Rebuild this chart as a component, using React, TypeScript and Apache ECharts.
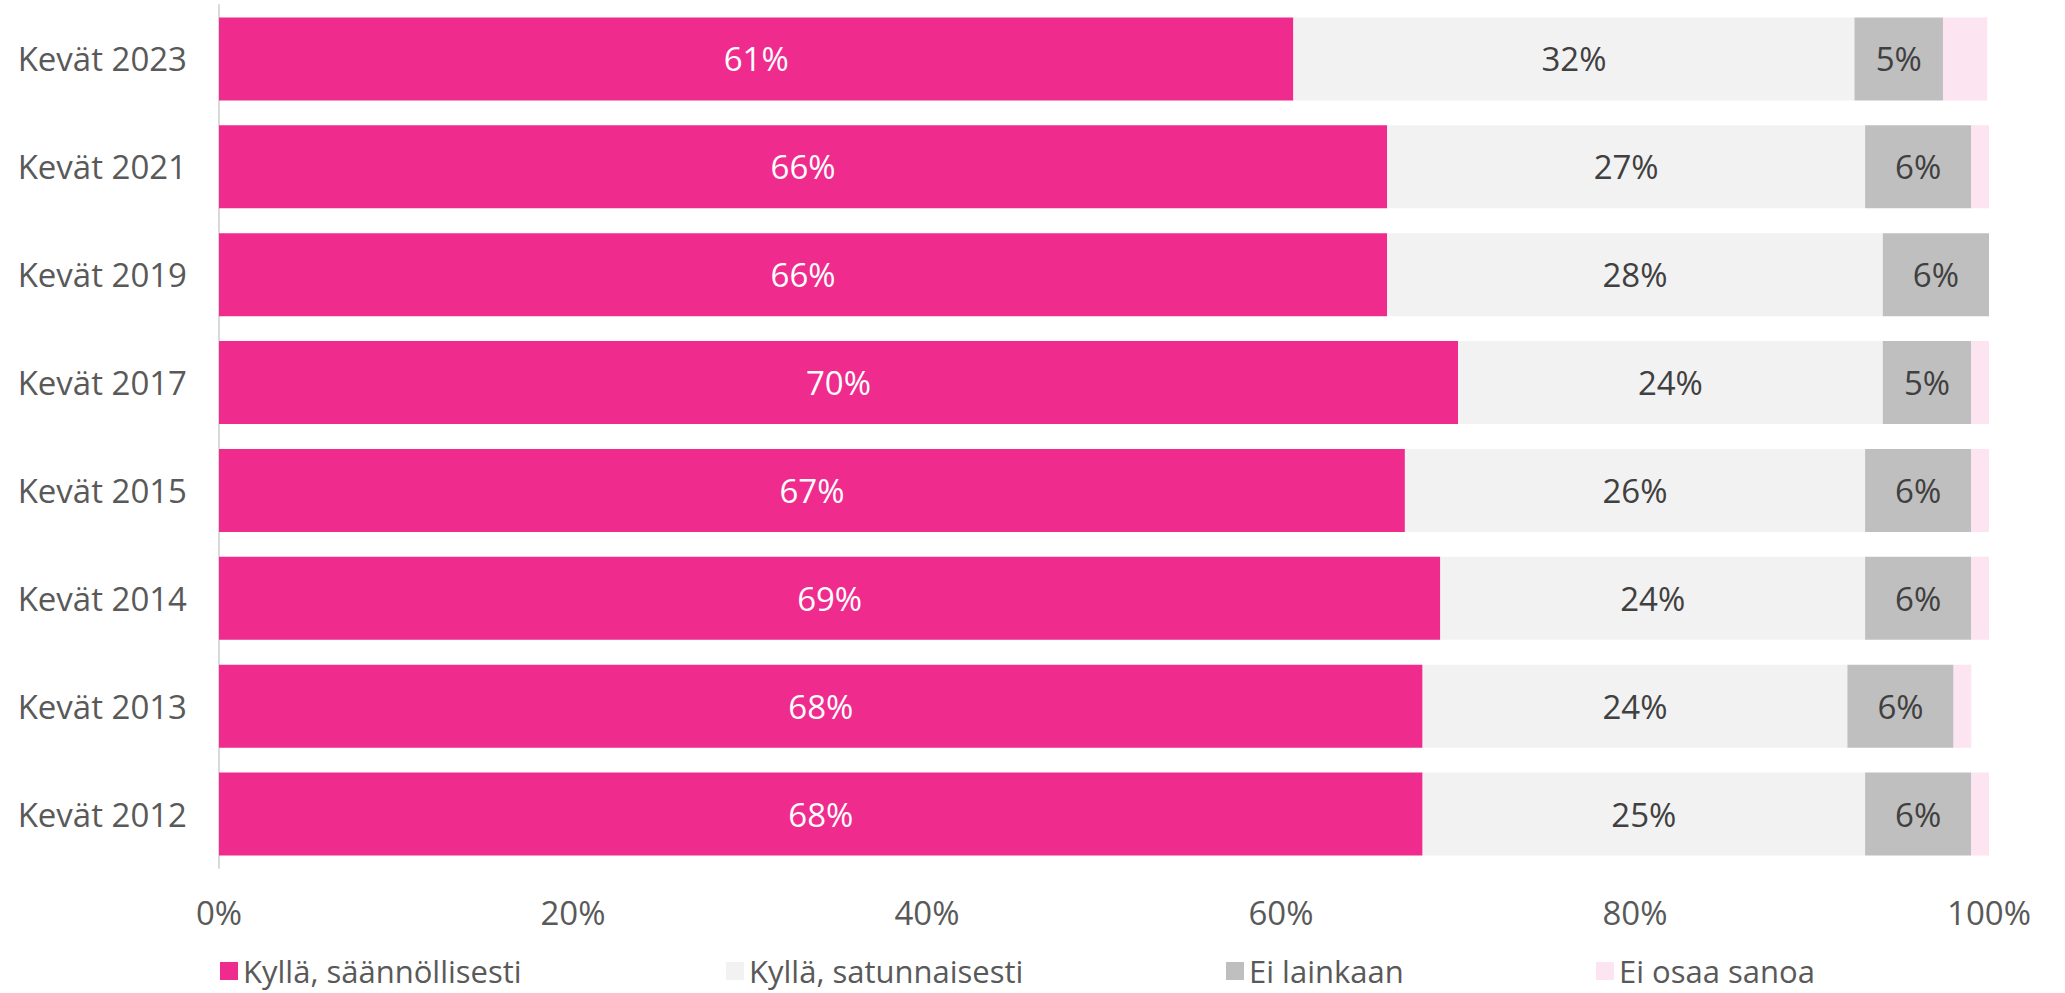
import React, { useEffect, useRef } from "react";
import * as echarts from "echarts";

const categories = [
  "Kevät 2023",
  "Kevät 2021",
  "Kevät 2019",
  "Kevät 2017",
  "Kevät 2015",
  "Kevät 2014",
  "Kevät 2013",
  "Kevät 2012",
];
const seriesNames = [
  "Kyllä, säännöllisesti",
  "Kyllä, satunnaisesti",
  "Ei lainkaan",
  "Ei osaa sanoa",
];
const regular = [60.7, 66, 66, 70, 67, 69, 68, 68];
const occasional = [31.7, 27, 28, 24, 26, 24, 24, 25];
const notAtAll = [5, 6, 6, 5, 6, 6, 6, 6];
const dontKnow = [2.5, 1, 0, 1, 1, 1, 1, 1];
const xTicks = [0, 20, 40, 60, 80, 100];

const colors = ["#EF2B8D", "#F2F2F2", "#BFBFBF", "#FCE4F0"];
const labelColors = ["#FFFFFF", "#404040", "#404040", "#404040"];
const showLabel = [true, true, true, false];
const legendLeft = [220, 726, 1226, 1596];
const FONT = "Open Sans";

export default function App() {
  const ref = useRef<HTMLDivElement>(null);
  useEffect(() => {
    if (!ref.current) return;
    const chart = echarts.init(ref.current, null, { renderer: "svg" });
    const values = [regular, occasional, notAtAll, dontKnow];
    chart.setOption({
      animation: false,
      textStyle: { fontFamily: FONT },
      grid: { left: 219, right: 76, top: 5, bottom: 125, containLabel: false },
      legend: seriesNames.map((n, i) => ({
        data: [n],
        left: legendLeft[i],
        top: 954,
        padding: 0,
        itemWidth: 18,
        itemHeight: 18,
        itemGap: 10,
        icon: "rect",
        textStyle: {
          fontFamily: FONT,
          fontSize: 31,
          lineHeight: 34,
          color: "#595959",
          padding: [0, 0, 0, 0],
        },
        selectedMode: false,
      })),
      xAxis: {
        type: "value",
        min: 0,
        max: 100,
        interval: 20,
        axisLine: { show: false },
        axisTick: { show: false },
        splitLine: { show: false },
        axisLabel: {
          margin: 28,
          fontSize: 33,
          color: "#595959",
          fontFamily: FONT,
          formatter: (v: number) => (xTicks.includes(v) ? `${v}%` : ""),
        },
      },
      yAxis: {
        type: "category",
        inverse: true,
        data: categories,
        axisLine: { show: true, lineStyle: { color: "#D9D9D9", width: 2 } },
        axisTick: { show: false },
        axisLabel: { margin: 32, fontSize: 33, color: "#595959", fontFamily: FONT },
      },
      series: seriesNames.map((n, i) => ({
        name: n,
        type: "bar",
        stack: "total",
        barWidth: 83,
        data: values[i],
        itemStyle: { color: colors[i] },
        label: {
          show: showLabel[i],
          position: "inside",
          color: labelColors[i],
          fontSize: 33,
          fontFamily: FONT,
          formatter: (p: any) => `${Math.round(p.value)}%`,
        },
      })),
    });
    return () => chart.dispose();
  }, []);
  return (
    <div
      ref={ref}
      style={{ position: "fixed", left: 0, top: 0, width: 2065, height: 993, background: "#fff" }}
    />
  );
}
